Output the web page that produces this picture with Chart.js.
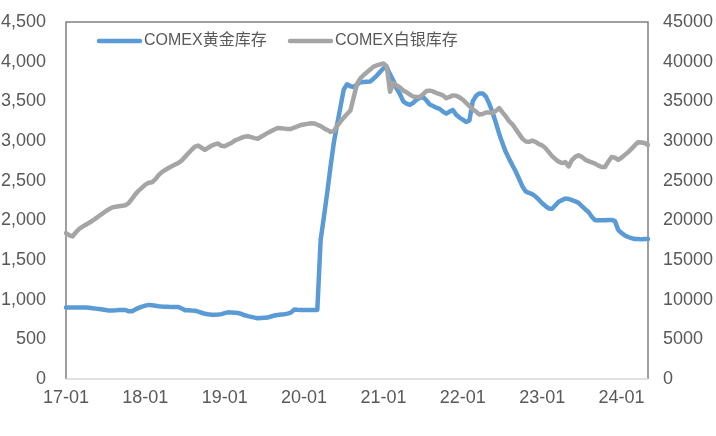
<!DOCTYPE html>
<html>
<head>
<meta charset="utf-8">
<script src="https://cdn.jsdelivr.net/npm/chart.js@4.4.1/dist/chart.umd.min.js"></script>
<style>
html,body{margin:0;padding:0;background:#fff;}
#wrap{width:716px;height:436px;position:relative;}
</style>
</head>
<body>
<div id="wrap"><canvas id="c"></canvas></div>
<script>
// Semi-monthly observations from 2017-01 to 2024-05
const startYear = 2017, startMonth = 1, halfMonthCount = 177;
const categories = [];
for (let i = 0; i < halfMonthCount; i++) {
  const m = Math.floor(i / 2);
  const y = startYear + Math.floor((startMonth - 1 + m) / 12);
  const mo = ((startMonth - 1 + m) % 12) + 1;
  categories.push(String(y).slice(2) + '-' + String(mo).padStart(2, '0') + (i % 2 === 0 ? '-01' : '-16'));
}
const tickLabels = ['17-01','18-01','19-01','20-01','21-01','22-01','23-01','24-01'];

const goldName = 'COMEX黄金库存';
const silverName = 'COMEX白银库存';

// COMEX gold inventory (left axis)
const goldValues = [
900,900,900,900,900,900,900,897,892,887,882,876,869,862,862,865,869,870,870,853,
854,878,896,912,925,934,930,924,918,914,912,910,909,907,906,888,868,866,863,861,
848,835,822,815,810,809,812,818,830,840,838,836,832,820,803,792,783,774,765,768,
771,774,788,800,806,812,817,824,836,875,872,870,870,870,870,870,870,1750,2045,2350,
2680,2980,3210,3430,3650,3715,3690,3680,3710,3740,3745,3748,3750,3785,3825,3873,3915,3930,3840,3760,
3660,3590,3500,3470,3455,3480,3520,3545,3555,3510,3460,3440,3420,3405,3370,3345,3370,3390,3330,3295,
3270,3240,3260,3500,3570,3600,3600,3560,3470,3360,3230,3090,2970,2860,2775,2695,2615,2525,2430,2365,
2345,2330,2300,2260,2215,2180,2150,2145,2190,2235,2255,2275,2270,2255,2240,2220,2180,2140,2105,2045,
2000,2000,2000,2000,2005,2005,1990,1880,1840,1810,1790,1775,1765,1765,1760,1765,1765
];

// COMEX silver inventory (right axis)
const silverValues = [
18400,18120,17980,18500,18920,19200,19450,19700,19950,20250,20550,20850,21150,21400,21630,21720,21780,21840,21900,22200,
22750,23300,23750,24120,24500,24730,24800,25170,25700,26080,26350,26600,26820,27030,27240,27550,28000,28450,28900,29280,
29420,29150,28880,29150,29400,29580,29680,29400,29350,29550,29750,30050,30220,30400,30550,30600,30480,30360,30280,30530,
30780,31020,31240,31450,31630,31600,31560,31520,31520,31700,31850,32010,32090,32160,32230,32220,32050,31880,31620,31400,
31150,31250,31900,32450,32950,33400,33850,35500,37200,37900,38300,38670,39000,39380,39520,39660,39780,39400,36200,37300,
37000,36750,36350,36150,35850,35600,35550,35550,35900,36300,36350,36250,36050,35900,35750,35400,35550,35750,35700,35500,
35200,34800,34400,34000,33700,33350,33400,33600,33600,33550,33800,34150,33600,33100,32500,32100,31500,30900,30300,29950,
29900,30050,29900,29600,29450,29100,28600,28100,27700,27400,27220,27350,26800,27600,28000,28200,28000,27650,27450,27300,
27150,26900,26720,26720,27400,27980,27900,27600,27900,28250,28600,29000,29450,29850,29800,29750,29500
];

const leftTicks = [0,500,1000,1500,2000,2500,3000,3500,4000,4500];
const rightTicks = [0,5000,10000,15000,20000,25000,30000,35000,40000,45000];

const goldColor = '#5B9BD5';
const silverColor = '#A5A5A5';
const textColor = '#595959';
const tickFont = {family: "'Liberation Sans', Arial, sans-serif", size: 18};

function noPad(s) { s.paddingTop = 0; s.paddingBottom = 0; s.paddingLeft = 0; s.paddingRight = 0; }

const frame = {
  id: 'frame',
  beforeDatasetsDraw(chart) {
    const a = chart.chartArea, ctx = chart.ctx;
    ctx.save();
    ctx.lineWidth = 1.5;
    ctx.strokeStyle = '#808080';
    ctx.beginPath();
    ctx.moveTo(a.left, a.bottom); ctx.lineTo(a.left, a.top);
    ctx.lineTo(a.right, a.top); ctx.lineTo(a.right, a.bottom);
    ctx.stroke();
    ctx.strokeStyle = '#D9D9D9';
    ctx.beginPath();
    ctx.moveTo(a.left, a.bottom); ctx.lineTo(a.right, a.bottom);
    ctx.stroke();
    ctx.restore();
  },
  afterDraw(chart) {
    const ctx = chart.ctx;
    const items = [
      {x: 97, label: goldName, color: goldColor},
      {x: 288, label: silverName, color: silverColor}
    ];
    ctx.save();
    ctx.font = "16px 'Liberation Sans', 'Noto Sans CJK SC', sans-serif";
    ctx.textBaseline = 'middle';
    items.forEach(it => {
      ctx.strokeStyle = it.color;
      ctx.lineWidth = 4.5;
      ctx.lineCap = 'round';
      ctx.beginPath();
      ctx.moveTo(it.x + 2, 41); ctx.lineTo(it.x + 43, 41);
      ctx.stroke();
      ctx.fillStyle = textColor;
      ctx.fillText(it.label, it.x + 47, 41);
    });
    ctx.restore();
  }
};

new Chart(document.getElementById('c'), {
  type: 'line',
  data: {
    labels: categories,
    datasets: [
      {label: goldName, data: goldValues, yAxisID: 'y', borderColor: goldColor, backgroundColor: goldColor,
       borderWidth: 4.5, pointRadius: 0, tension: 0, order: 1, borderJoinStyle: 'round', borderCapStyle: 'round'},
      {label: silverName, data: silverValues, yAxisID: 'y1', borderColor: silverColor, backgroundColor: silverColor,
       borderWidth: 4.5, pointRadius: 0, tension: 0, order: 0, borderJoinStyle: 'round', borderCapStyle: 'round'}
    ]
  },
  options: {
    responsive: true,
    maintainAspectRatio: false,
    animation: false,
    layout: {padding: {top: 22, left: 0, right: 0, bottom: 0}},
    plugins: {legend: {display: false}, tooltip: {enabled: false}},
    scales: {
      x: {
        type: 'category',
        offset: false,
        grid: {display: false, drawTicks: false},
        border: {display: false},
        afterFit(s) { s.height = 57; noPad(s); },
        ticks: {
          autoSkip: false, maxRotation: 0, minRotation: 0, padding: 8,
          color: textColor, font: tickFont,
          callback(v, i) {
            const c = categories[i];
            if (c.endsWith('-01-01')) {
              const t = c.slice(0, 5);
              return tickLabels.includes(t) ? t : '';
            }
            return '';
          }
        }
      },
      y: {
        position: 'left', min: 0, max: 4500,
        grid: {display: false, drawTicks: false},
        border: {display: false},
        afterFit(s) { s.width = 66; noPad(s); },
        afterBuildTicks(s) { s.ticks = leftTicks.map(v => ({value: v})); },
        ticks: {
          padding: 20, color: textColor, font: tickFont,
          callback(v) { return v.toLocaleString('en-US'); }
        }
      },
      y1: {
        position: 'right', min: 0, max: 45000,
        grid: {display: false, drawTicks: false},
        border: {display: false},
        afterFit(s) { s.width = 68; noPad(s); },
        afterBuildTicks(s) { s.ticks = rightTicks.map(v => ({value: v})); },
        ticks: {
          padding: 15, color: textColor, font: tickFont,
          callback(v) { return String(v); }
        }
      }
    }
  },
  plugins: [frame]
});
</script>
</body>
</html>
